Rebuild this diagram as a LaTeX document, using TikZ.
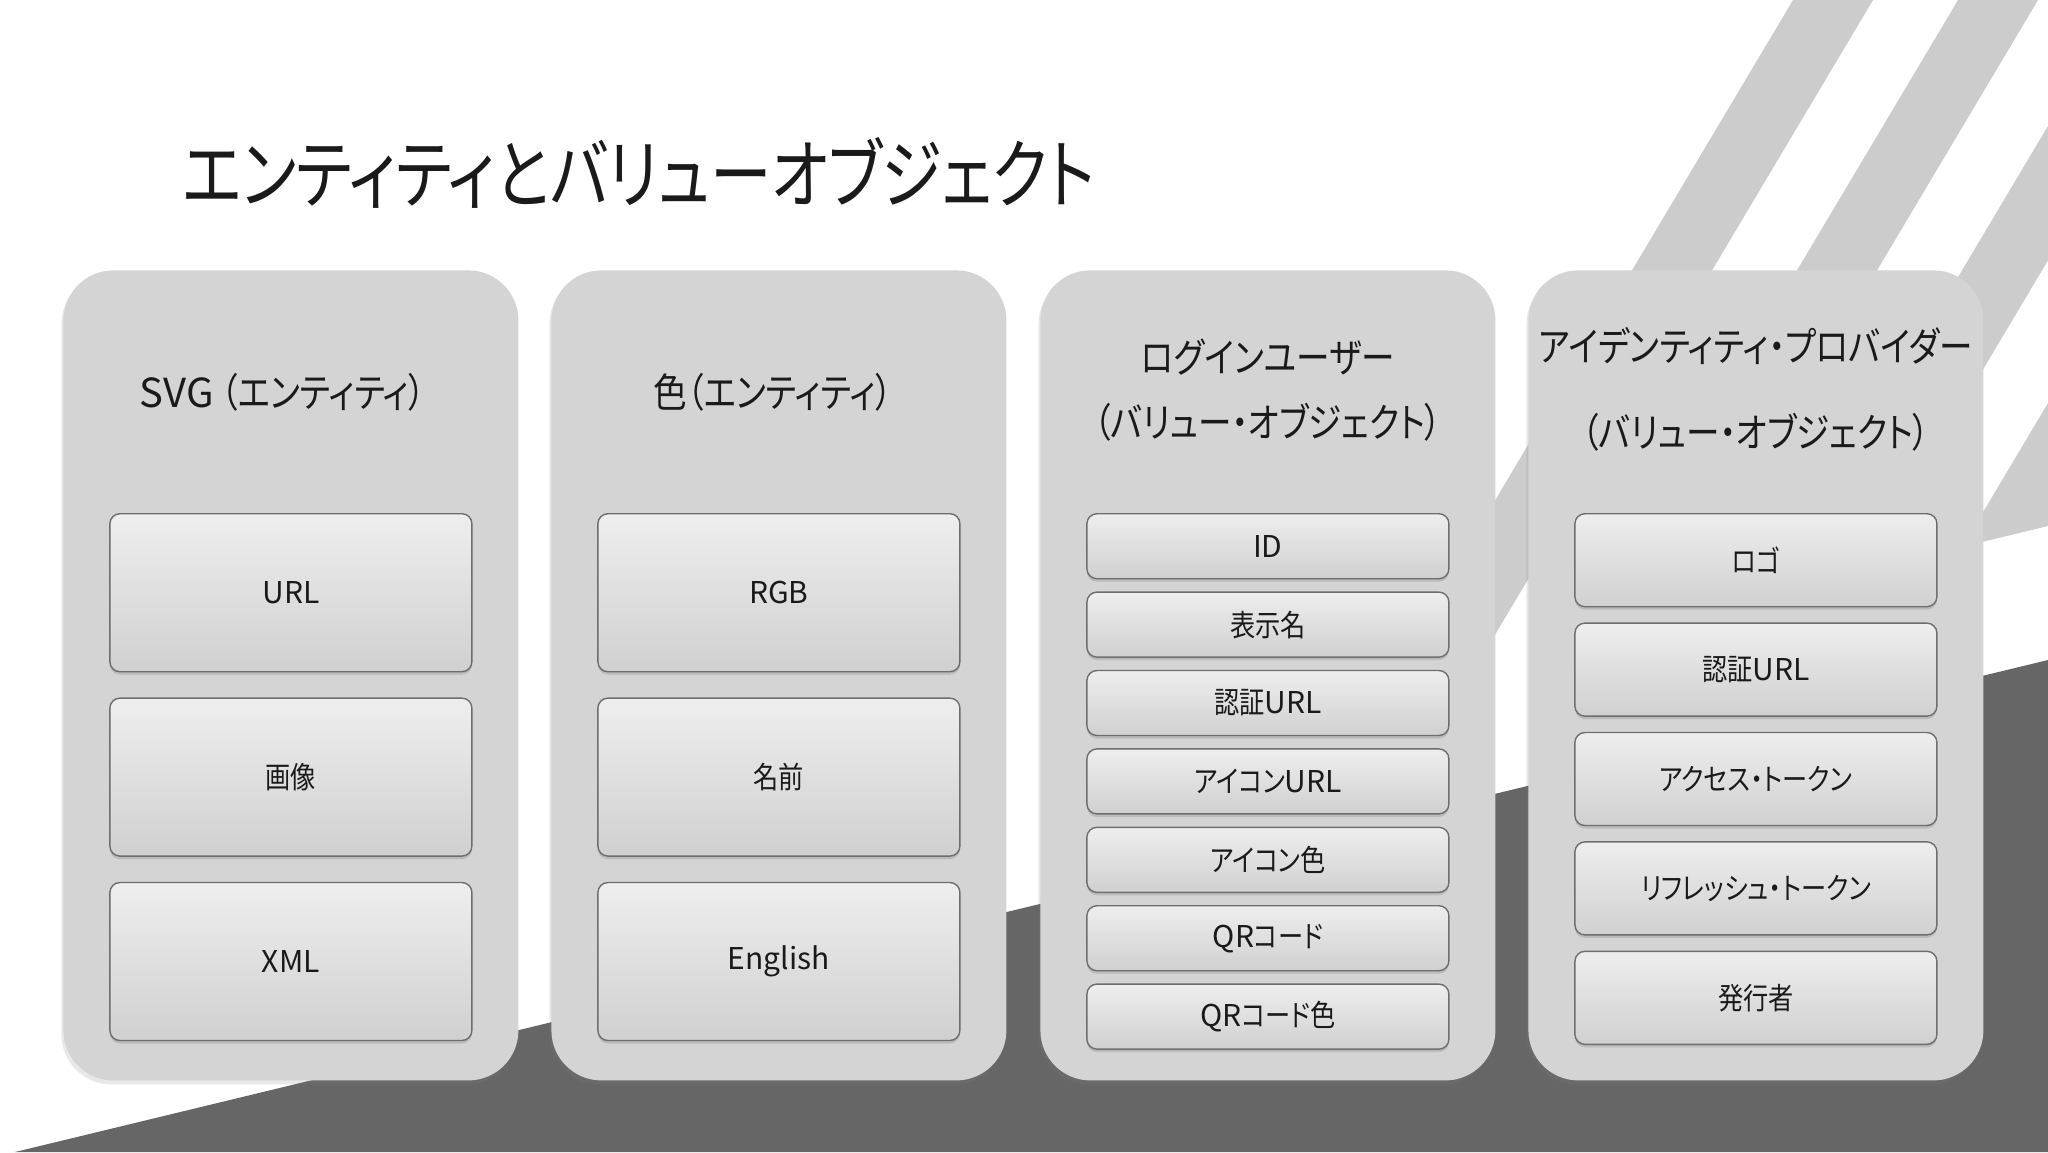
\documentclass[tikz,border=0pt]{standalone}
\usepackage{fontspec}
\setmainfont{Noto Sans CJK JP}[RawFeature=+palt, FakeStretch=0.84]
\newfontfamily\latn{Noto Sans CJK JP}
\newfontfamily\headfont{Noto Sans CJK JP}[RawFeature=+palt, FakeStretch=0.81]
\usetikzlibrary{positioning,shadows,calc}
\definecolor{cardgray}{HTML}{D4D4D4}
\definecolor{stripegray}{HTML}{CCCCCC}
\definecolor{darkband}{HTML}{666666}
\definecolor{fieldtop}{HTML}{EEEEEE}
\definecolor{fieldbottom}{HTML}{D0D0D0}
\definecolor{fieldline}{HTML}{6E6E6E}
\definecolor{ink}{HTML}{1A1A1A}

\tikzset{
  heading/.style={font=\headfont\fontsize{38}{44}\selectfont, text=ink, inner sep=0pt},
  card/.style={rounded corners=25pt, fill=cardgray, minimum width=227.5pt, minimum height=405pt, anchor=north west,
    drop shadow={shadow xshift=-1pt, shadow yshift=-2pt, opacity=0.18}},
  cardtitle/.style={font=\fontsize{20}{24}\selectfont, text=ink, align=center, inner sep=0pt},
  field/.style={draw=fieldline, line width=0.7pt, rounded corners=5pt, top color=fieldtop, bottom color=fieldbottom,
    minimum width=181pt, text=ink, font=\fontsize{15}{18}\selectfont,
    drop shadow={shadow xshift=0pt, shadow yshift=-1.5pt, opacity=0.3}},
  tallfield/.style={field, minimum height=79pt},
  thinfield/.style={field, minimum height=32.5pt},
  midfield/.style={field, minimum height=46.5pt}
}

\begin{document}
\begin{tikzpicture}[x=0.5pt,y=-0.5pt]
  \useasboundingbox (0,0) rectangle (2048,1152);
  \fill[white] (0,0) rectangle (2048,1152);

  % diagonal stripes, cut off above the dark band
  \begin{scope}
    \clip (0,0) -- (2048,0) -- (2048,526) -- (0,1022) -- cycle;
    \fill[stripegray] (1793,0) -- ++(80,0) -- ++(-686,1152) -- ++(-80,0) -- cycle;
    \fill[stripegray] (1958,0) -- ++(80,0) -- ++(-686,1152) -- ++(-80,0) -- cycle;
    \fill[stripegray] (2123,0) -- ++(80,0) -- ++(-686,1152) -- ++(-80,0) -- cycle;
    \fill[stripegray] (2288,0) -- ++(80,0) -- ++(-686,1152) -- ++(-80,0) -- cycle;
  \end{scope}
  \fill[darkband] (15,1152) -- (2048,660) -- (2048,1152) -- cycle;

  \node[heading, anchor=west] (head) at (182,173) {エンティティとバリューオブジェクト};

  % cards
  \node[card] (svg) at (63,270) {};
  \node[card] (color) at (551,270) {};
  \node[card] (login) at (1040,270) {};
  \node[card] (idp) at (1528,270) {};

  \node[cardtitle] (svgT) at ($(svg.north)+(-8,122)$) {{\latn SVG} （エンティティ）};
  \node[cardtitle] (colorT) at ($(color.north)+(-6,122)$) {色（エンティティ）};
  \node[cardtitle, font=\fontsize{20}{32.5}\selectfont] (loginT) at ($(login.north)+(0,120)$) {ログインユーザー\\（バリュー・オブジェクト）};
  \node[cardtitle, font=\fontsize{20}{43}\selectfont] (idpT) at ($(idp.north)+(0,119)$) {アイデンティティ・プロバイダー\\（バリュー・オブジェクト）};

  % SVG
  \node[tallfield, below=121.5pt of svg.north] (url) {\latn URL};
  \node[tallfield, below=12.5pt of url] (image) {画像};
  \node[tallfield, below=12.5pt of image] (xml) {\latn XML};

  % colour
  \node[tallfield, below=121.5pt of color.north] (rgb) {\latn RGB};
  \node[tallfield, below=12.5pt of rgb] (name) {名前};
  \node[tallfield, below=12.5pt of name] (english) {\latn English};

  % login user
  \node[thinfield, below=121.5pt of login.north] (id) {\latn ID};
  \node[thinfield, below=6pt of id] (dispname) {表示名};
  \node[thinfield, below=6pt of dispname] (authurl) {認証{\latn URL}};
  \node[thinfield, below=6pt of authurl] (iconurl) {アイコン{\latn URL}};
  \node[thinfield, below=6pt of iconurl] (iconcolor) {アイコン色};
  \node[thinfield, below=6pt of iconcolor] (qr) {{\latn QR}コード};
  \node[thinfield, below=6pt of qr] (qrcolor) {{\latn QR}コード色};

  % identity provider
  \node[midfield, below=121.5pt of idp.north] (logo) {ロゴ};
  \node[midfield, below=7.5pt of logo] (idpauth) {認証{\latn URL}};
  \node[midfield, below=7.5pt of idpauth] (access) {アクセス・トークン};
  \node[midfield, below=7.5pt of access] (refresh) {リフレッシュ・トークン};
  \node[midfield, below=7.5pt of refresh] (issuer) {発行者};
\end{tikzpicture}
\end{document}
